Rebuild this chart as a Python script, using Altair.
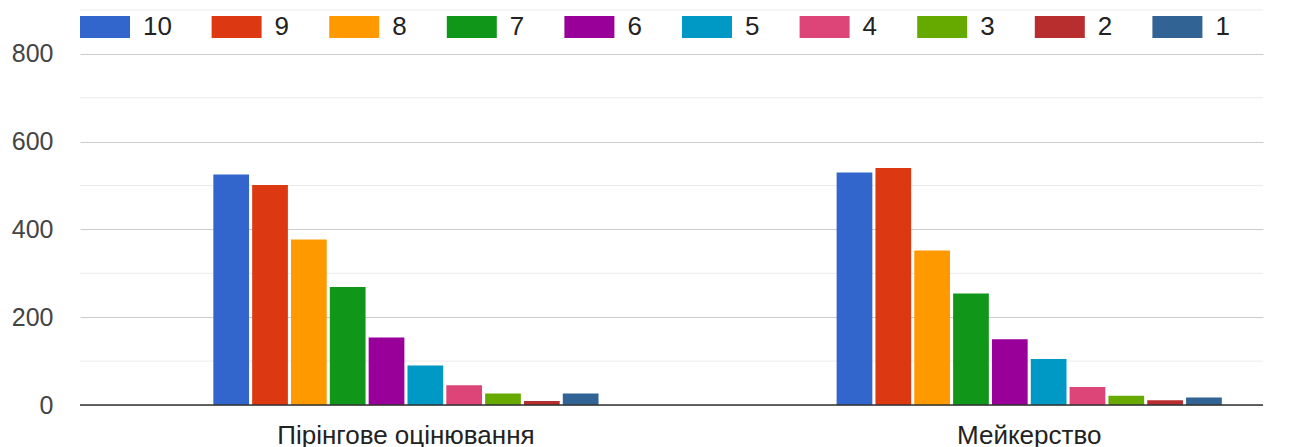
import altair as alt
import pandas as pd

categories = ["Пірінгове оцінювання", "Мейкерство"]
ratings = ["10", "9", "8", "7", "6", "5", "4", "3", "2", "1"]
peer_values = [525, 501, 377, 269, 154, 90, 45, 26, 9, 26]
maker_values = [530, 540, 352, 254, 150, 105, 41, 21, 11, 17]
colors = ["#3366cc", "#dc3912", "#ff9900", "#109618", "#990099",
          "#0099c6", "#dd4477", "#66aa00", "#b82e2e", "#316395"]
major_ticks = [0, 200, 400, 600, 800]
minor_ticks = [100, 300, 500, 700, 900]
baseline = [0]

rows = []
for cat, vals in zip(categories, [peer_values, maker_values]):
    for r, v in zip(ratings, vals):
        rows.append({"category": cat, "rating": r, "count": v})
df = pd.DataFrame(rows)

yscale = alt.Scale(domain=[0, 900], nice=False, zero=True)
yaxis = alt.Axis(values=major_ticks, title=None, ticks=False, domain=False,
                 gridColor="#cccccc", labelFontSize=25, labelColor="#444444",
                 labelPadding=27)

minor = alt.Chart(pd.DataFrame({"v": minor_ticks})).mark_rule(
    color="#ebebeb", strokeWidth=1
).encode(y=alt.Y("v:Q", scale=yscale, axis=yaxis, title=None))

bars = alt.Chart(df).mark_bar().encode(
    x=alt.X("category:N", sort=categories,
            scale=alt.Scale(paddingInner=0.382, paddingOuter=0.14, align=0.764),
            axis=alt.Axis(title=None, labelAngle=0, ticks=False, domain=False,
                          labelFontSize=26, labelColor="#222222", labelPadding=17,
                          labelLimit=0)),
    xOffset=alt.XOffset("rating:N", sort=ratings,
                        scale=alt.Scale(paddingInner=0.08, paddingOuter=0)),
    y=alt.Y("count:Q", scale=yscale, axis=yaxis, title=None),
    color=alt.Color("rating:N", sort=ratings,
                    scale=alt.Scale(domain=ratings, range=colors),
                    legend=alt.Legend(orient="none", legendX=0, legendY=-8,
                                      direction="horizontal", columns=10, title=None,
                                      symbolType="M-1,-0.44H1V0.44H-1Z", symbolSize=2500,
                                      symbolStrokeWidth=0, symbolOpacity=1,
                                      labelFontSize=26, labelOffset=13, columnPadding=39.6,
                                      labelColor="#222222")),
)

zero = alt.Chart(pd.DataFrame({"v": baseline})).mark_rule(
    color="#333333", strokeWidth=1.5
).encode(y=alt.Y("v:Q", scale=yscale, axis=yaxis, title=None))

chart = alt.layer(minor, bars, zero).properties(
    width=1183, height=395,
    padding={"left": 72, "top": 2, "right": 30, "bottom": 50},
    autosize=alt.AutoSizeParams(type="none"),
).configure(font="Liberation Sans").configure_view(strokeWidth=0)

chart.save("out.html", embed_options={"renderer": "svg", "actions": False})
